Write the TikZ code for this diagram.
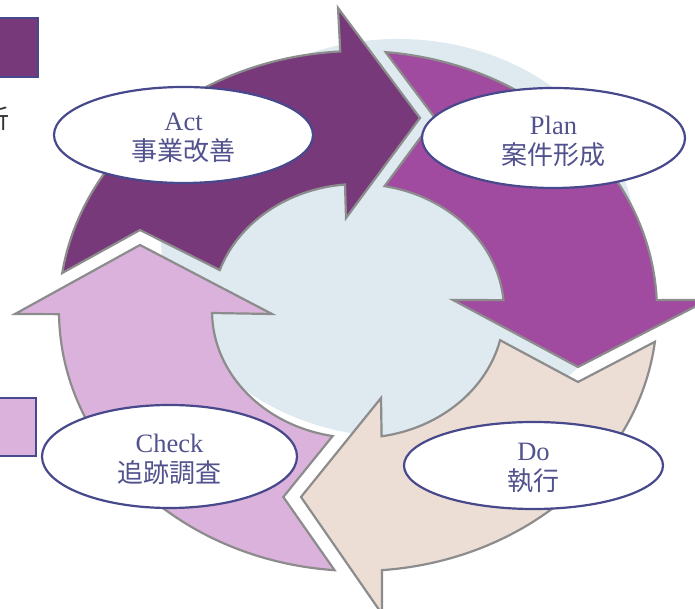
\documentclass[tikz,border=0pt]{standalone}
\usepackage{fontspec}
\setmainfont{Liberation Serif}
\newfontfamily\cjk{Noto Sans CJK JP}
\usetikzlibrary{shapes.geometric}
\definecolor{actc}{RGB}{119,57,122}
\definecolor{planc}{RGB}{160,75,160}
\definecolor{doc}{RGB}{236,222,213}
\definecolor{checkc}{RGB}{218,178,219}
\definecolor{bluec}{RGB}{222,233,240}
\definecolor{arrgray}{RGB}{140,140,140}
\definecolor{ellc}{RGB}{72,72,140}
\definecolor{txtc}{RGB}{82,82,142}
\begin{document}
\begin{tikzpicture}[x=1pt,y=1pt,
  arr/.style={draw=arrgray, line width=2.2pt, line join=miter},
  lab/.style={ellipse, draw=ellc, line width=2.2pt, fill=white, inner sep=0pt},
  labtxt/.style={text=txtc, align=center, inner sep=0pt, font=\fontsize{26.5}{30}\selectfont},
  keybox/.style={draw=ellc, line width=2pt}
]
\useasboundingbox (0,0) rectangle (695,609);
\clip (0,0) rectangle (695,609);
\coordinate (C) at (358,298);
% background
\fill[bluec] (398,371) ellipse[x radius=237, y radius=199];
% Act arrow
\draw[arr, fill=actc] ([shift={(C)}]93.4:299 and 260) -- (338,601) -- (420,491) -- (346,391)
  -- ([shift={(C)}]95.1:146 and 127) arc[start angle=95.1, end angle=161.2, x radius=146, y radius=127]
  -- (140,379) -- ([shift={(C)}]171.6:299 and 260) arc[start angle=171.6, end angle=93.4, x radius=299, y radius=260] -- cycle;
% Plan arrow
\draw[arr, fill=planc] ([shift={(C)}]84.7:299 and 260) arc[start angle=84.7, end angle=2.4, x radius=299, y radius=260]
  -- (708,309) -- (578,242) -- (453,309)
  -- ([shift={(C)}]4.9:146 and 127) arc[start angle=4.9, end angle=79.5, x radius=146, y radius=127]
  -- (435,491) -- cycle;
% Do arrow
\draw[arr, fill=doc] ([shift={(C)}]-6.8:299 and 260) arc[start angle=-6.8, end angle=-85.4, x radius=299, y radius=260]
  -- (382,-5) -- (301,112) -- (381,211)
  -- ([shift={(C)}]-80.7:146 and 127) arc[start angle=-80.7, end angle=-13.3, x radius=146, y radius=127]
  -- (578,227) -- cycle;
% Check arrow
\draw[arr, fill=checkc] ([shift={(C)}]265.5:299 and 260) arc[start angle=265.5, end angle=180.7, x radius=299, y radius=260]
  -- (15,295) -- (140,364) -- (272,295)
  -- ([shift={(C)}]180.9:146 and 127) arc[start angle=180.9, end angle=260, x radius=146, y radius=127]
  -- (283.3,112) -- cycle;
% labels
\node[lab, minimum width=259, minimum height=96] (act) at (183.5,474) {};
\node[lab, minimum width=263, minimum height=100] (plan) at (553.5,471) {};
\node[lab, minimum width=255, minimum height=103] (check) at (169.5,152.5) {};
\node[lab, minimum width=259, minimum height=87] (do) at (533.5,143.5) {};
\node[labtxt] (actt) at ([yshift=-3]act.center) {Act\\{\cjk\fontsize{26}{30}\selectfont 事業改善}};
\node[labtxt] (plant) at ([yshift=-3]plan.center) {Plan\\{\cjk\fontsize{26}{30}\selectfont 案件形成}};
\node[labtxt] (checkt) at ([yshift=-3]check.center) {Check\\{\cjk\fontsize{26}{30}\selectfont 追跡調査}};
\node[labtxt] (dot) at ([yshift=-3]do.center) {Do\\{\cjk\fontsize{26}{30}\selectfont 執行}};
% left partial legend
\draw[keybox, fill=actc] (-22,532) rectangle (38,591);
\draw[keybox, fill=checkc] (-22,153) rectangle (36,211);
\node[anchor=east, inner sep=0pt, text=black!80, font=\cjk\fontsize{26}{30}\selectfont] (legtxt) at (10,490) {析};
\end{tikzpicture}
\end{document}
